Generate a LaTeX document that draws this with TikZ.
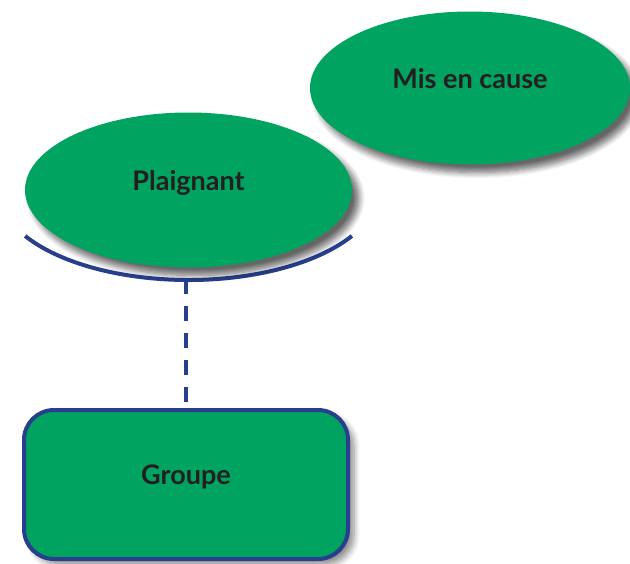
\documentclass[tikz,border=0pt]{standalone}
\usepackage{fontspec}
\setmainfont{Lato}
\usetikzlibrary{shapes.geometric,shadows.blur}
\definecolor{leafgreen}{HTML}{00A460}
\definecolor{inkblue}{HTML}{283F8E}
\definecolor{darkink}{HTML}{231F20}
\tikzset{
  party/.style={ellipse, fill=leafgreen, inner sep=0pt,
    blur shadow={shadow xshift=7pt, shadow yshift=-8pt, shadow blur steps=8, shadow blur radius=6pt, shadow opacity=60},
    font=\bfseries\fontsize{27}{32}\selectfont, text=darkink},
  groupbox/.style={rectangle, rounded corners=30pt, fill=leafgreen, draw=inkblue, line width=4pt,
    blur shadow={shadow xshift=6pt, shadow yshift=-6pt, shadow blur steps=8, shadow blur radius=6pt, shadow opacity=45},
    font=\bfseries\fontsize{27}{32}\selectfont, text=darkink},
  link/.style={draw=inkblue, line width=4pt},
}
% label whose baseline sits on the node centre
\newcommand{\onbase}[1]{\raisebox{0pt}[0pt][0pt]{#1}}
\begin{document}
\begin{tikzpicture}[x=1pt, y=-1pt]
  \useasboundingbox (0,0) rectangle (630,563);
  % bracket under the complainant
  \draw[link] (188.5,190) ++(149.3:190 and 90) arc[start angle=149.3, end angle=30.7, x radius=190, y radius=90];
  \coordinate (arcbottom) at (186,279);
  % the two parties
  \node[party, minimum width=320pt, minimum height=153pt] (accused) at (470,88) {\onbase{Mis en cause}};
  \node[party, minimum width=327pt, minimum height=155pt] (complainant) at (188.5,190) {\onbase{Plaignant}};
  % group box
  \node[groupbox, minimum width=324pt, minimum height=149pt] (group) at (186,484.5) {\onbase{Groupe}};
  \draw[link, dash pattern=on 15pt off 12pt] (arcbottom) -- (group.north);
\end{tikzpicture}
\end{document}
